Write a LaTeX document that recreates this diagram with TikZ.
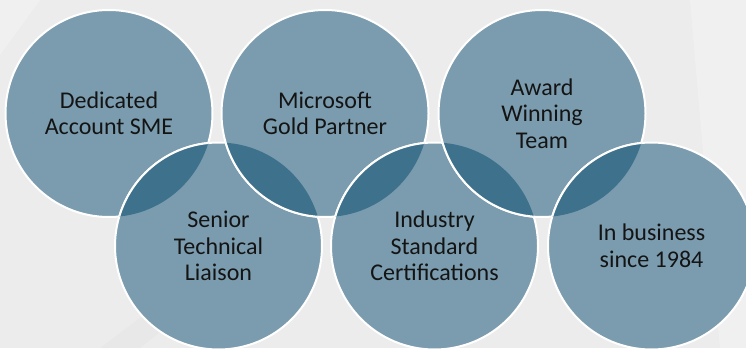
\documentclass[tikz,border=0pt]{standalone}
\usepackage{fontspec}
\setmainfont{Carlito}
\usepackage{tikz}
\usetikzlibrary{positioning}
\definecolor{backdrop}{HTML}{ECECEC}
\definecolor{ringfill}{HTML}{7A9CAE}
\definecolor{lensfill}{HTML}{3E718C}
\tikzstyle{ring} = [circle, minimum size=207pt, inner sep=0pt, fill=ringfill, draw=white, line width=2pt, align=center, text=black!92, font=\fontsize{24}{26.5}\selectfont]
\tikzstyle{lens} = [fill=lensfill]
\tikzstyle{rim} = [draw=white, line width=2pt]

\begin{document}
\begin{tikzpicture}[x=1pt, y=-1pt]
		\useasboundingbox (0,0) rectangle (746,348);
		\clip (0,0) rectangle (746,348);
		% backdrop with faint facets
		\fill[backdrop] (0,0) rectangle (746,348);
		\fill[white, opacity=0.25] (40,0) -- (0,55) -- (0,0) -- cycle;
		\fill[white, opacity=0.25] (690,0) -- (746,0) -- (746,348) -- (720,348) -- cycle;
		\fill[black, opacity=0.015] (100,348) -- (330,174) -- (360,174) -- (140,348) -- cycle;
		% circles, left to right, each one over the last
		\node (Dedicated) [ring] at (109,113.5) {Dedicated\\Account SME};
		\node (Senior) [ring] at (218.5,246) {Senior\\Technical\\Liaison};
		\node (Microsoft) [ring, right = 7pt of Dedicated] {Microsoft\\Gold Partner};
		\node (Industry) [ring, right = 7pt of Senior] {Industry\\Standard\\Certifications};
		\node (Award) [ring, right = 8pt of Microsoft] {Award\\Winning\\Team};
		\node (InBusiness) [ring, right = 8pt of Industry] {In business\\since 1984};
		% darker overlaps
		\foreach \upper/\lower in {Senior/Dedicated, Microsoft/Senior, Industry/Microsoft, Award/Industry, InBusiness/Award} {
			\begin{scope}
				\clip (\lower.center) circle (103.5pt);
				\fill[lens] (\upper.center) circle (103.5pt);
				\draw[rim] (\upper.center) circle (103.5pt);
			\end{scope}
		}
\end{tikzpicture}
\end{document}
